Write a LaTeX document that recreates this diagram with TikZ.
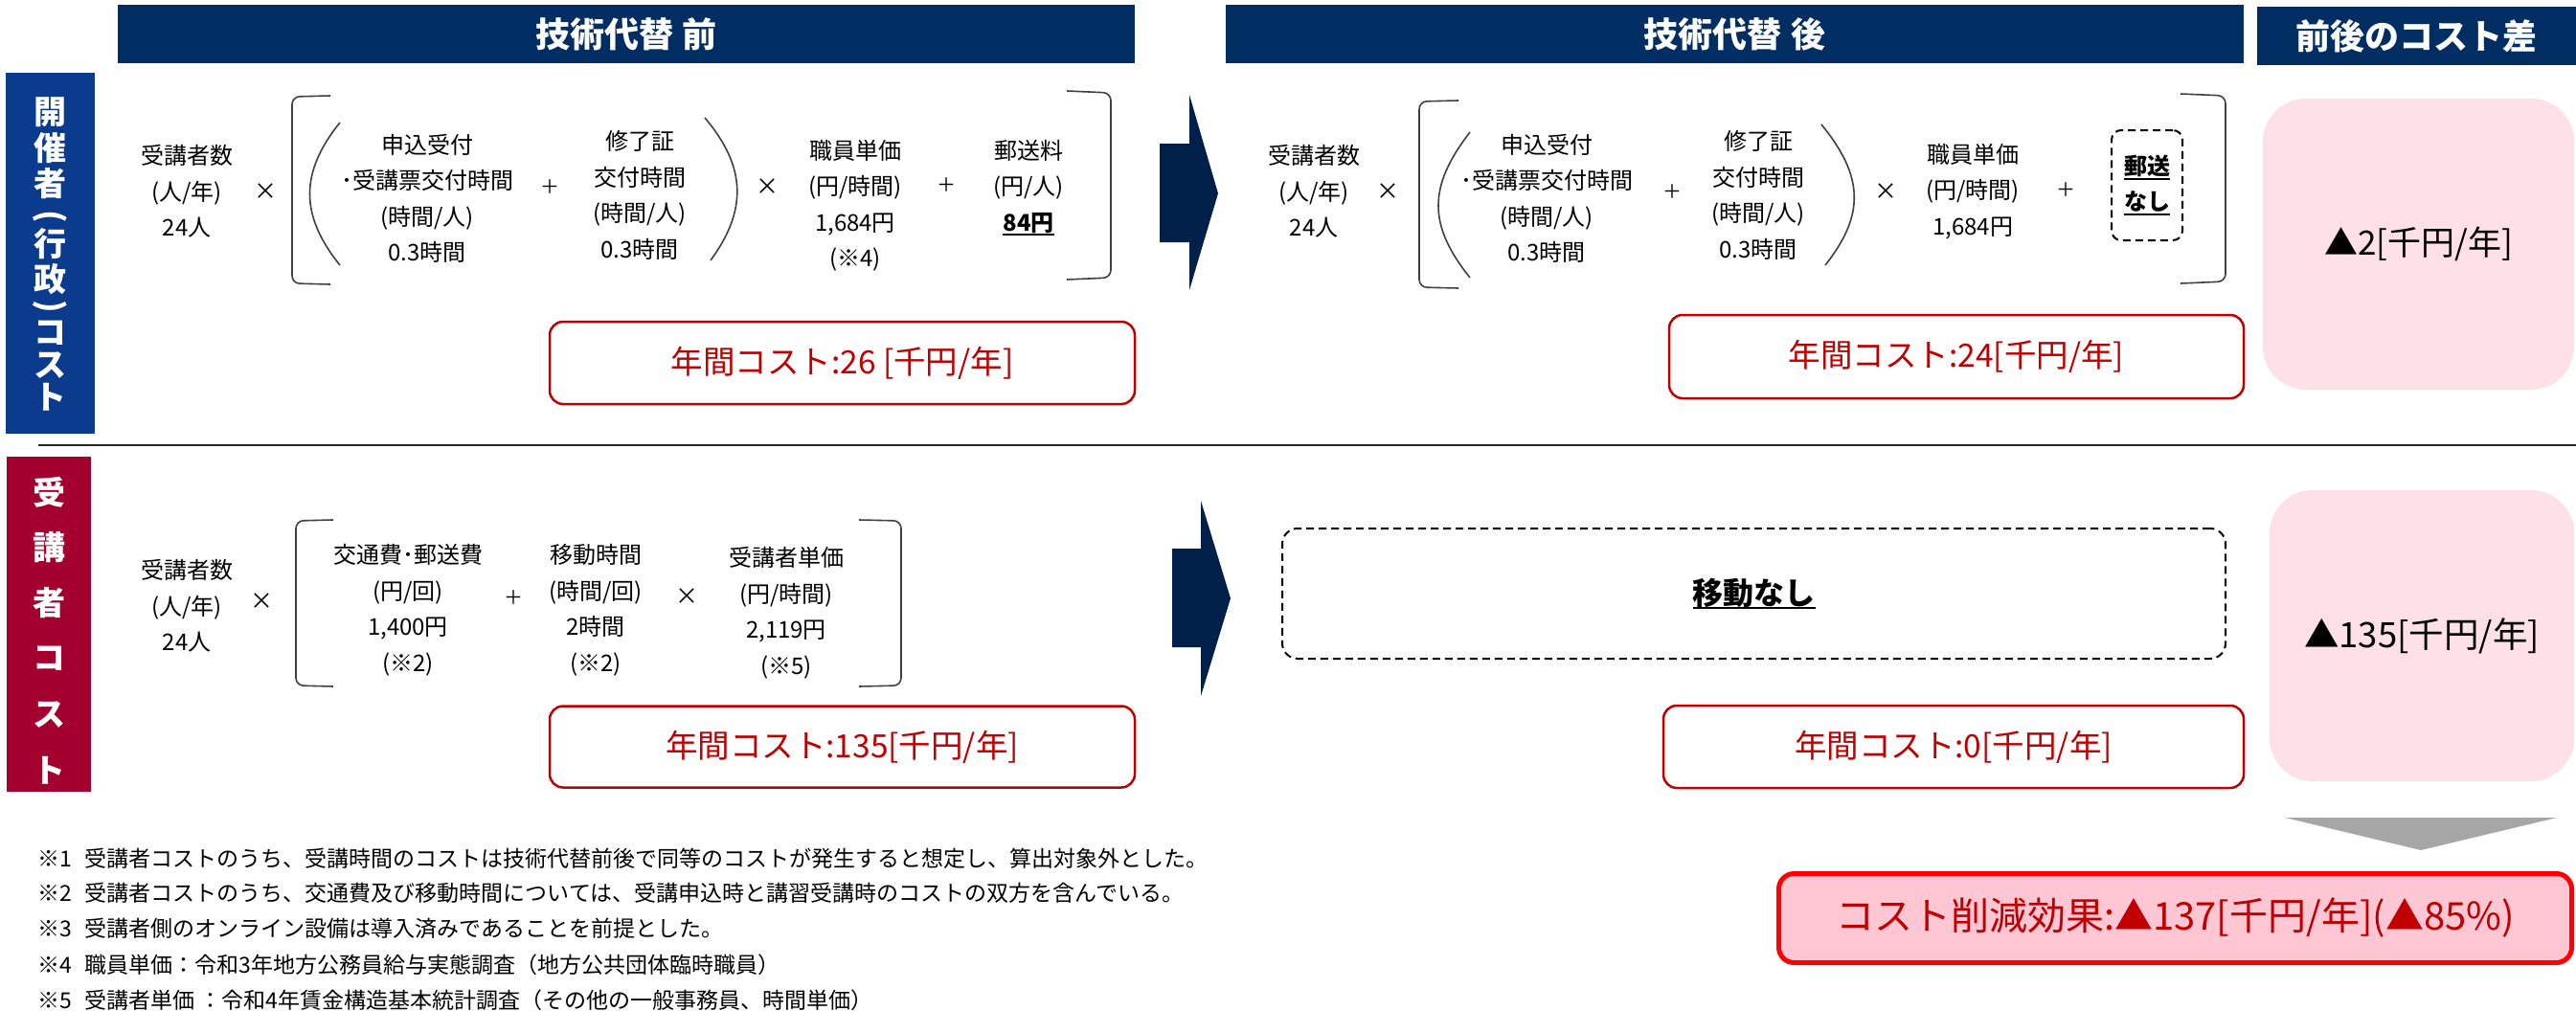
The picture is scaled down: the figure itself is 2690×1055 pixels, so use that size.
\documentclass[tikz,border=0pt]{standalone}
\usepackage{fontspec}
\setmainfont{Noto Sans CJK JP}
\definecolor{hdrnavy}{HTML}{002D62}
\definecolor{arrnavy}{HTML}{00204A}
\definecolor{sideblue}{HTML}{0A3B8D}
\definecolor{sidered}{HTML}{A3002F}
\definecolor{boxred}{HTML}{C00000}
\definecolor{lpink}{HTML}{FDE0E8}
\definecolor{mpink}{HTML}{FFC6D4}
\definecolor{brd}{HTML}{404040}
\definecolor{trigray}{HTML}{A6A6A6}
\newcommand\myul[1]{\setbox0=\hbox{#1}\leavevmode\rlap{\rule[-5pt]{\wd0}{1.8pt}}\box0}
\begin{document}
\begin{tikzpicture}[x=1pt,y=-1pt,
  every node/.style={inner sep=0pt, outer sep=0pt},
  t24/.style={font=\fontsize{24}{37.5}\selectfont, align=center, text=black},
  op/.style={font=\fontsize{20}{20}\selectfont, text=black},
  note/.style={font=\fontsize{23}{23}\selectfont, anchor=west, text=black},
  hdr/.style={fill=hdrnavy, text=white, font=\bfseries\fontsize{36}{40}\selectfont, minimum height=61},
  sidechar/.style={text=white, font=\bfseries\fontsize{34}{34}\selectfont},
  costbox/.style={draw=boxred, line width=2.5pt, rounded corners=14pt, text=boxred, font=\fontsize{33.5}{33.5}\selectfont},
  diffbox/.style={fill=lpink, rounded corners=45pt, font=\fontsize{35}{35}\selectfont, text=black},
  dashbox/.style={draw=black, line width=2pt, dash pattern=on 8pt off 5pt, rounded corners=12pt},
  brk/.style={draw=brd, line width=1.6pt},
  blockarrow/.style={fill=arrnavy},
]
\useasboundingbox (0,0) rectangle (2690,1055);
\fill[white] (0,0) rectangle (2690,1055);

% headers
\node[hdr, minimum width=1062] (h1) at (654,35.5) {技術代替\hspace{10pt}前};
\node[hdr, minimum width=1063] (h2) at (1811.5,35.5) {技術代替\hspace{10pt}後};
\node[hdr, minimum width=333] (h3) at (2523.5,37.5) {前後のコスト差};

% side bars
\node[fill=sideblue, minimum width=93, minimum height=377] (sb1) at (52.5,264.5) {};
\node[fill=sidered, minimum width=88, minimum height=350] (sb2) at (51,652) {};
\node[sidechar] (b1) at (52,117) {開};
\node[sidechar] (b2) at (52,155) {催};
\node[sidechar] (b3) at (52,192) {者};
\node[sidechar, rotate=-90] (b4) at (52,226) {(};
\node[sidechar] (b5) at (52,255) {行};
\node[sidechar] (b6) at (52,292) {政};
\node[sidechar, rotate=-90] (b7) at (52,320) {)};
\node[sidechar] (b8) at (52,348) {コ};
\node[sidechar] (b9) at (52,382) {ス};
\node[sidechar] (b10) at (52,415) {ト};
\node[sidechar] (r1) at (51,514) {受};
\node[sidechar] (r2) at (51,572) {講};
\node[sidechar] (r3) at (51,630) {者};
\node[sidechar] (r4) at (51,688) {コ};
\node[sidechar] (r5) at (51,747) {ス};
\node[sidechar] (r6) at (51,805) {ト};

% divider
\draw[line width=2pt, black!85] (40,465) -- (2690,465);

% ---- before, organizer
\node[t24] (a1) at (195,200) {受講者数\\(人/年)\\24人};
\node[t24] (ax1) at (277,200) {×};
\draw[brk, rounded corners=8pt] (345,100) -- (305,101) -- (305,296) -- (345,297);
\draw[brk] (355,128) .. controls (313,180) and (313,225) .. (355,277);
\node[t24] (a2) at (446,207.5) {申込受付\\･受講票交付時間\\(時間/人)\\0.3時間};
\node[op] (ap1) at (574,195) {＋};
\node[t24] (a3) at (668,204) {修了証\\交付時間\\(時間/人)\\0.3時間};
\draw[brk] (736,123) .. controls (780,175) and (780,220) .. (742,272);
\node[t24] (ax2) at (801,195) {×};
\node[t24] (a4) at (893,215) {職員単価\\(円/時間)\\1,684円\\(※4)};
\node[op] (ap2) at (988,193) {＋};
\node[t24] (a5) at (1074,196) {郵送料\\(円/人)\\\textbf{\myul{84円}}};
\draw[brk, rounded corners=8pt] (1114,95) -- (1160,97) -- (1160,290) -- (1114,292);
\node[costbox, minimum width=611, minimum height=86] (ac) at (879.5,379) {年間コスト:26 [千円/年]};

% arrows
\fill[blockarrow] (1211,150) -- (1242,150) -- (1242,99) -- (1272,202) -- (1242,303) -- (1242,253) -- (1211,253) -- cycle;
\fill[blockarrow] (1224,573) -- (1254,573) -- (1254,523) -- (1285,625) -- (1254,727) -- (1254,676) -- (1224,676) -- cycle;

% ---- after, organizer
\node[t24] (b1a) at (1372,200) {受講者数\\(人/年)\\24人};
\node[t24] (bx1) at (1449,200) {×};
\draw[brk, rounded corners=8pt] (1523,105) -- (1482,106) -- (1482,300) -- (1523,301);
\draw[brk] (1535,138) .. controls (1491,195) and (1491,235) .. (1535,290);
\node[t24] (b2a) at (1615,207.5) {申込受付\\･受講票交付時間\\(時間/人)\\0.3時間};
\node[op] (bp1) at (1746,200) {＋};
\node[t24] (b3a) at (1836,204) {修了証\\交付時間\\(時間/人)\\0.3時間};
\draw[brk] (1902,130) .. controls (1947,185) and (1947,225) .. (1906,277);
\node[t24] (bx2) at (1969,200) {×};
\node[t24] (b4a) at (2060,200) {職員単価\\(円/時間)\\1,684円};
\node[op] (bp2) at (2157,198) {＋};
\node[dashbox, minimum width=74, minimum height=115, rounded corners=10pt, font=\bfseries\fontsize{24}{37}\selectfont, align=center] (b5a) at (2242,193.5) {\myul{郵送}\\\myul{なし}};
\draw[brk, rounded corners=8pt] (2277,98) -- (2324,100) -- (2324,294) -- (2277,296);
\node[costbox, minimum width=600, minimum height=87] (bc) at (2043,372.5) {年間コスト:24[千円/年]};

% ---- before, participants
\node[t24] (c1) at (195,633) {受講者数\\(人/年)\\24人};
\node[t24] (cx1) at (273,628) {×};
\draw[brk, rounded corners=8pt] (348,543) -- (309,544) -- (309,716) -- (348,717);
\node[t24] (c2) at (426,637.5) {交通費･郵送費\\(円/回)\\1,400円\\(※2)};
\node[op] (cp1) at (536,624) {＋};
\node[t24] (c3) at (622,637.5) {移動時間\\(時間/回)\\2時間\\(※2)};
\node[t24] (cx2) at (717,623) {×};
\node[t24] (c4) at (821,640) {受講者単価\\(円/時間)\\2,119円\\(※5)};
\draw[brk, rounded corners=8pt] (897,543) -- (941,544) -- (941,716) -- (897,717);
\node[costbox, minimum width=611, minimum height=85] (cc) at (879.5,780) {年間コスト:135[千円/年]};

% ---- after, participants
\node[dashbox, minimum width=985, minimum height=136, rounded corners=16pt, font=\bfseries\fontsize{32}{32}\selectfont] (d1) at (1831.5,620) {\myul{移動なし}};
\node[costbox, minimum width=606, minimum height=86] (dc) at (2040,780) {年間コスト:0[千円/年]};

% ---- differences
\node[diffbox, minimum width=325, minimum height=304] (e1) at (2525.5,255) {▲2[千円/年]};
\node[diffbox, minimum width=318, minimum height=304, font=\fontsize{36.5}{36.5}\selectfont] (e2) at (2529,664) {▲135[千円/年]};
\fill[trigray] (2386,854) -- (2670,854) -- (2528,888) -- cycle;
\node[draw=red, line width=5pt, fill=mpink, rounded corners=16pt, minimum width=828, minimum height=93, text=boxred, font=\fontsize{40}{40}\selectfont] (tot) at (2271.5,959) {コスト削減効果:▲137[千円/年](▲85\%)};

% ---- notes
\node[note] (n1) at (39,897) {※1\hspace{14pt}受講者コストのうち、受講時間のコストは技術代替前後で同等のコストが発生すると想定し、算出対象外とした。};
\node[note] (n2) at (39,933) {※2\hspace{14pt}受講者コストのうち、交通費及び移動時間については、受講申込時と講習受講時のコストの双方を含んでいる。};
\node[note] (n3) at (39,970) {※3\hspace{14pt}受講者側のオンライン設備は導入済みであることを前提とした。};
\node[note] (n4) at (39,1008) {※4\hspace{14pt}職員単価：令和3年地方公務員給与実態調査（地方公共団体臨時職員）};
\node[note] (n5) at (39,1045) {※5\hspace{14pt}受講者単価 ：令和4年賃金構造基本統計調査（その他の一般事務員、時間単価）};
\end{tikzpicture}
\end{document}
